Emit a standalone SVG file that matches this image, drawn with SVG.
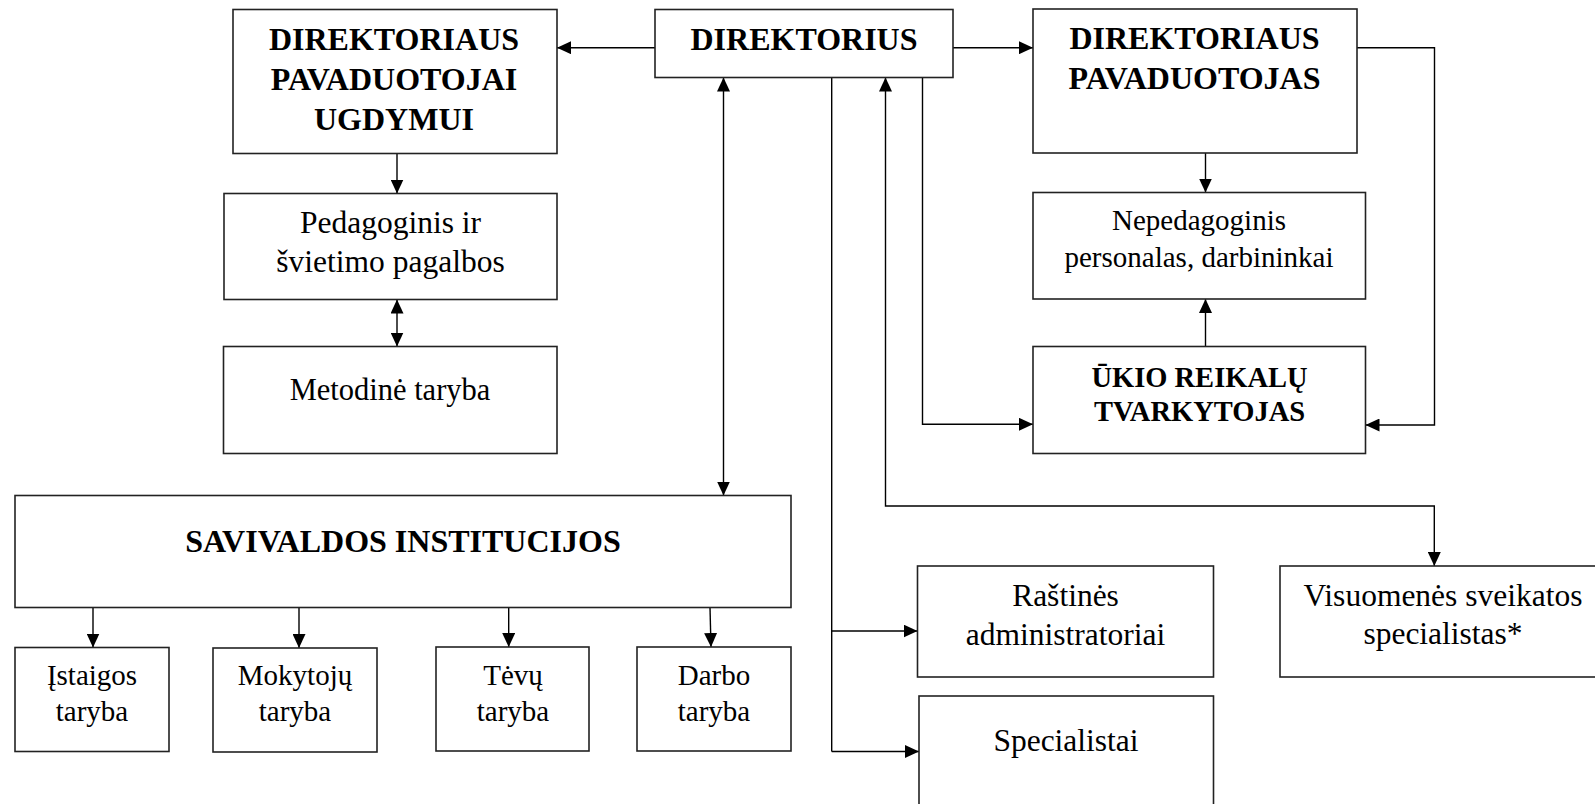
<svg xmlns="http://www.w3.org/2000/svg" width="1595" height="804" viewBox="0 0 1595 804">
<defs>
<marker id="arr" markerUnits="userSpaceOnUse" markerWidth="15" markerHeight="13" refX="14" refY="6.5" orient="auto-start-reverse">
<path d="M0,0 L14,6.5 L0,13 z" fill="#000"/>
</marker>
<style>
.box{fill:#fff;stroke:#222;stroke-width:1.6}
.t{font-family:"Liberation Serif","Times New Roman",serif;fill:#000;text-anchor:middle}
.b{font-weight:bold}
.c{fill:none;stroke:#000;stroke-width:1.4}
</style>
</defs>
<rect width="1595" height="804" fill="#fff"/>
<g id="connectors">
<path class="c" d="M655,47.7 H557" marker-end="url(#arr)"/>
<path class="c" d="M953,47.7 H1033" marker-end="url(#arr)"/>
<path class="c" d="M397,153.5 V193.5" marker-end="url(#arr)"/>
<path class="c" d="M397,299.5 V346.5" marker-start="url(#arr)" marker-end="url(#arr)"/>
<path class="c" d="M1205.5,153 V192.5" marker-end="url(#arr)"/>
<path class="c" d="M1205.5,346.5 V299" marker-end="url(#arr)"/>
<path class="c" d="M1357,47.7 H1434.5 V425 H1365.5" marker-end="url(#arr)"/>
<path class="c" d="M922.5,77.5 V424.3 H1033" marker-end="url(#arr)"/>
<path class="c" d="M723.5,77.5 V495.5" marker-start="url(#arr)" marker-end="url(#arr)"/>
<path class="c" d="M885.5,77.5 V506 H1434.3 V566" marker-start="url(#arr)" marker-end="url(#arr)"/>
<path class="c" d="M831.7,77.5 V751.5"/>
<path class="c" d="M831.7,631 H917.5" marker-end="url(#arr)"/>
<path class="c" d="M831.7,751.5 H919" marker-end="url(#arr)"/>
<path class="c" d="M93,607.5 V647.5" marker-end="url(#arr)"/>
<path class="c" d="M299,607.5 V648" marker-end="url(#arr)"/>
<path class="c" d="M508.7,607.5 V647" marker-end="url(#arr)"/>
<path class="c" d="M710,607.5 L711,647" marker-end="url(#arr)"/>
</g>
<g id="dpu">
<rect class="box" x="233" y="9.5" width="324" height="144"/>
<text class="t b" font-size="32" x="394" y="50">DIREKTORIAUS</text>
<text class="t b" font-size="32" x="394" y="90">PAVADUOTOJAI</text>
<text class="t b" font-size="32" x="394" y="129.5">UGDYMUI</text>
</g>
<g id="dir">
<rect class="box" x="655" y="9.5" width="298" height="68"/>
<text class="t b" font-size="32" x="804" y="50">DIREKTORIUS</text>
</g>
<g id="dp">
<rect class="box" x="1033" y="9" width="324" height="144"/>
<text class="t b" font-size="32" x="1194.5" y="49">DIREKTORIAUS</text>
<text class="t b" font-size="32" x="1194.5" y="89">PAVADUOTOJAS</text>
</g>
<g id="ped">
<rect class="box" x="224" y="193.5" width="333" height="106"/>
<text class="t" font-size="31.5" x="390.5" y="232.5">Pedagoginis ir</text>
<text class="t" font-size="31.5" x="390.5" y="272">švietimo pagalbos</text>
</g>
<g id="met">
<rect class="box" x="223.5" y="346.5" width="333.5" height="107"/>
<text class="t" font-size="30.5" x="390" y="399.5">Metodinė taryba</text>
</g>
<g id="nep">
<rect class="box" x="1033" y="192.5" width="332.5" height="106.5"/>
<text class="t" font-size="29" x="1199" y="230">Nepedagoginis</text>
<text class="t" font-size="29" x="1199" y="267">personalas, darbininkai</text>
</g>
<g id="ukio">
<rect class="box" x="1033" y="346.5" width="332.5" height="107"/>
<text class="t b" font-size="28.5" x="1199.5" y="386.5">ŪKIO REIKALŲ</text>
<text class="t b" font-size="28.5" x="1199.5" y="420.5">TVARKYTOJAS</text>
</g>
<g id="sav">
<rect class="box" x="15" y="495.5" width="776" height="112"/>
<text class="t b" font-size="32" x="403" y="552">SAVIVALDOS INSTITUCIJOS</text>
</g>
<g id="ist">
<rect class="box" x="15" y="647.5" width="154" height="104"/>
<text class="t" font-size="29" x="92" y="685">Įstaigos</text>
<text class="t" font-size="29" x="92" y="721">taryba</text>
</g>
<g id="mok">
<rect class="box" x="213" y="648" width="164" height="104"/>
<text class="t" font-size="29" x="295" y="685">Mokytojų</text>
<text class="t" font-size="29" x="295" y="721">taryba</text>
</g>
<g id="tev">
<rect class="box" x="436" y="647" width="153" height="104"/>
<text class="t" font-size="29" x="513" y="685">Tėvų</text>
<text class="t" font-size="29" x="513" y="721">taryba</text>
</g>
<g id="dar">
<rect class="box" x="637" y="647" width="154" height="104"/>
<text class="t" font-size="29" x="714" y="685">Darbo</text>
<text class="t" font-size="29" x="714" y="721">taryba</text>
</g>
<g id="ras">
<rect class="box" x="917.5" y="566" width="296" height="111"/>
<text class="t" font-size="31.5" x="1065.5" y="605.5">Raštinės</text>
<text class="t" font-size="31.5" x="1065.5" y="645">administratoriai</text>
</g>
<g id="spec">
<rect class="box" x="919" y="696" width="294.5" height="130"/>
<text class="t" font-size="31.5" x="1066" y="751">Specialistai</text>
</g>
<g id="vis">
<rect class="box" x="1280" y="566" width="330" height="111"/>
<text class="t" font-size="31.5" x="1443" y="605.5">Visuomenės sveikatos</text>
<text class="t" font-size="31.5" x="1443" y="644">specialistas*</text>
</g>
</svg>
